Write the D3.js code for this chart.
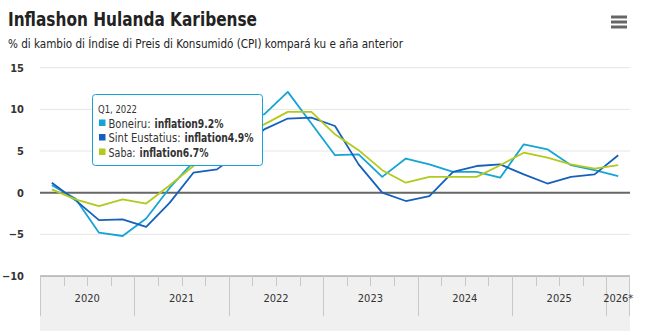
<!DOCTYPE html>
<html>
<head>
<meta charset="utf-8">
<script src="https://cdn.jsdelivr.net/npm/d3@7/dist/d3.min.js"></script>
<style>
  html, body { margin: 0; padding: 0; background: #fff; }
  svg { display: block; font-family: "Liberation Sans Narrow", "DejaVu Sans Condensed", "Arial Narrow", sans-serif; }
</style>
</head>
<body>
<svg id="chart" width="651" height="331"></svg>
<script>
const quarters = [
  "Q1 2020","Q2 2020","Q3 2020","Q4 2020",
  "Q1 2021","Q2 2021","Q3 2021","Q4 2021",
  "Q1 2022","Q2 2022","Q3 2022","Q4 2022",
  "Q1 2023","Q2 2023","Q3 2023","Q4 2023",
  "Q1 2024","Q2 2024","Q3 2024","Q4 2024",
  "Q1 2025","Q2 2025","Q3 2025","Q4 2025",
  "Q1 2026"
];
const boneiru = [0.9, -0.7, -4.8, -5.2, -3.1, 0.6, 3.7, 6.3, 9.2, 9.4, 12.1, 8.3, 4.5, 4.6, 1.9, 4.1, 3.4, 2.5, 2.5, 1.8, 5.8, 5.2, 3.3, 2.7, 2.0];
const sintEustatius = [1.2, -0.9, -3.3, -3.2, -4.1, -1.2, 2.4, 2.8, 4.9, 7.6, 8.9, 9.0, 8.0, 3.4, 0.0, -1.0, -0.4, 2.5, 3.2, 3.4, 2.2, 1.1, 1.9, 2.2, 4.5];
const saba = [0.4, -0.8, -1.6, -0.8, -1.3, 0.9, 3.2, 5.0, 6.7, 8.2, 9.7, 9.7, 7.0, 5.1, 2.7, 1.2, 1.9, 1.9, 1.9, 3.3, 4.8, 4.2, 3.4, 2.9, 3.3];
const seriesNames = ["Boneiru", "Sint Eustatius", "Saba"];
const seriesColors = ["#14a4d6", "#1560bd", "#b2ca1c"];
const yTicks = [-10, -5, 0, 5, 10, 15];
const yearLabels = ["2020", "2021", "2022", "2023", "2024", "2025", "2026*"];
const yearStart = ["Q1 2020", "Q1 2021", "Q1 2022", "Q1 2023", "Q1 2024", "Q1 2025", "Q1 2026"];
const yearQuarters = [4, 4, 4, 4, 4, 4, 1];
const titleText = "Inflashon Hulanda Karibense";
const subtitleText = "% di kambio di Índise di Preis di Konsumidó (CPI) kompará ku e aña anterior";
const tooltipIndex = 8;
const tooltipHeader = "Q1, 2022";

const series = [boneiru, sintEustatius, saba];

const svg = d3.select("#chart");
const plotLeft = 40, plotRight = 630, plotTop = 67.7, plotBottom = 276;

const x = d3.scaleBand().domain(quarters).range([plotLeft, plotRight]).padding(0);
const y = d3.scaleLinear().domain([-10, 15]).range([plotBottom, plotTop]);

function fit(sel, w) {
  const n = sel.node();
  const cur = n.getComputedTextLength();
  if (cur > w) sel.attr("textLength", w).attr("lengthAdjust", "spacingAndGlyphs");
  return sel;
}

// Title
fit(svg.append("text").attr("x", 8).attr("y", 26)
  .attr("font-size", 20).attr("font-weight", "bold").attr("fill", "#222")
  .text(titleText), 249);
fit(svg.append("text").attr("x", 8).attr("y", 48)
  .attr("font-size", 12).attr("fill", "#222")
  .text(subtitleText), 395);

// hamburger
[17, 22, 27].forEach(v => {
  svg.append("line").attr("x1", 611).attr("x2", 627).attr("y1", v).attr("y2", v)
    .attr("stroke", "#666").attr("stroke-width", 3);
});

// bottom band
svg.append("rect").attr("x", plotLeft).attr("y", plotBottom).attr("width", plotRight - plotLeft).attr("height", 331 - plotBottom)
  .attr("fill", "#f0f0f0");

// gridlines
const grid = svg.append("g");
yTicks.filter(t => t !== 0 && t !== -10).forEach(t => {
  grid.append("line").attr("x1", plotLeft).attr("x2", plotRight).attr("y1", y(t)).attr("y2", y(t))
    .attr("stroke", "#e6e6e6").attr("stroke-width", 1);
});

// y labels
const yAxis = d3.axisLeft(y).tickValues(yTicks).tickSize(0).tickPadding(0).tickFormat(d3.format("d"));
const yg = svg.append("g").attr("transform", `translate(24,0)`).call(yAxis);
yg.select(".domain").remove();
yg.selectAll("text").attr("font-size", 11).attr("font-weight", "bold").attr("fill", "#333")
  .attr("font-family", "'Liberation Sans Narrow', 'DejaVu Sans Condensed', sans-serif");

// x axis: quarter ticks
const xa = svg.append("g");
xa.append("line").attr("x1", plotLeft).attr("x2", plotRight).attr("y1", plotBottom).attr("y2", plotBottom)
  .attr("stroke", "#888").attr("stroke-width", 1);
quarters.forEach(q => {
  const isYear = yearStart.includes(q);
  const xx = Math.round(x(q)) + 0.5;
  xa.append("line").attr("x1", xx).attr("x2", xx).attr("y1", plotBottom).attr("y2", isYear ? 316 : 286)
    .attr("stroke", "#c8c8c8").attr("stroke-width", 1);
});
xa.append("line").attr("x1", plotRight - 0.5).attr("x2", plotRight - 0.5).attr("y1", plotBottom).attr("y2", 316)
  .attr("stroke", "#c8c8c8").attr("stroke-width", 1);
yearLabels.forEach((lab, i) => {
  const x0 = x(yearStart[i]);
  const cx = x0 + x.bandwidth() * yearQuarters[i] / 2;
  xa.append("text").attr("x", cx).attr("y", 302).attr("text-anchor", "middle")
    .attr("font-size", 11).attr("fill", "#333").text(lab);
});

// zero line
svg.append("line").attr("x1", plotLeft).attr("x2", plotRight).attr("y1", y(0)).attr("y2", y(0))
  .attr("stroke", "#666").attr("stroke-width", 2);

// lines
const line = d3.line().x((d, i) => x(quarters[i]) + x.bandwidth() / 2).y(d => y(d));
series.forEach((s, k) => {
  svg.append("path").datum(s).attr("d", line).attr("fill", "none")
    .attr("stroke", seriesColors[k]).attr("stroke-width", 1.8).attr("stroke-linejoin", "round");
});

// tooltip
const nameWidths = [42, 72, 27];
const valueWidth = 69;
const tt = svg.append("g");
tt.append("rect").attr("x", 92.5).attr("y", 94.5).attr("width", 170).attr("height", 71).attr("rx", 3)
  .attr("fill", "#fff").attr("stroke", seriesColors[0]).attr("stroke-width", 1);
fit(tt.append("text").attr("x", 98).attr("y", 113).attr("font-size", 11).attr("fill", "#333").text(tooltipHeader), 39);
series.forEach((s, k) => {
  const by = 127.5 + k * 14.5;
  tt.append("rect").attr("x", 99).attr("y", by - 8).attr("width", 6.5).attr("height", 6.5).attr("fill", seriesColors[k]);
  fit(tt.append("text").attr("x", 108.5).attr("y", by).attr("font-size", 12.5).attr("fill", "#333")
    .text(seriesNames[k] + ":"), nameWidths[k]);
  fit(tt.append("text").attr("x", 108.5 + nameWidths[k] + 4).attr("y", by).attr("font-size", 12.5)
    .attr("font-weight", "bold").attr("fill", "#333")
    .text("inflation" + s[tooltipIndex] + "%"), valueWidth);
});
</script>
</body>
</html>
